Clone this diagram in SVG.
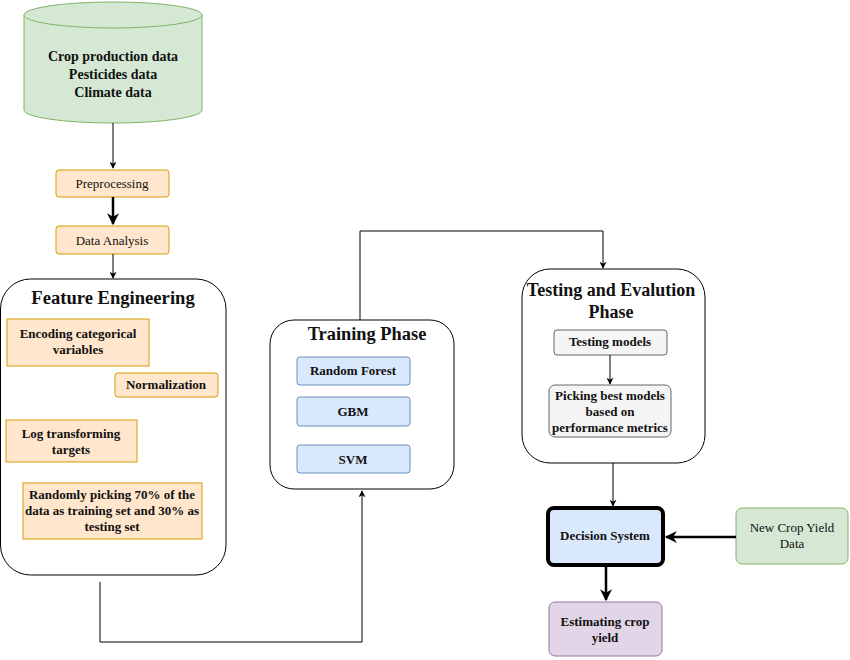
<svg xmlns="http://www.w3.org/2000/svg" width="850" height="660" viewBox="0 0 850 660">
<defs>
<marker id="a" viewBox="0 0 10 10" refX="9" refY="5" markerWidth="7" markerHeight="7" orient="auto" markerUnits="userSpaceOnUse"><path d="M0,0 L10,5 L0,10 L3,5 z" fill="#000"/></marker>
<marker id="b" viewBox="0 0 10 10" refX="9" refY="5" markerWidth="12" markerHeight="12" orient="auto" markerUnits="userSpaceOnUse"><path d="M0,0 L10,5 L0,10 L3,5 z" fill="#000"/></marker>
</defs>
<style>
text{font-family:"Liberation Serif","Times New Roman",serif;fill:#111;text-anchor:middle}
.b{font-weight:bold;font-size:13px}
.d{font-weight:bold;font-size:14px}
.n{font-size:13px}
.t{font-weight:bold;font-size:18px}
.or{fill:#ffe6cc;stroke:#d79b00;stroke-width:1}
.bl{fill:#dae8fc;stroke:#6c8ebf;stroke-width:1}
.gr{fill:#f5f5f5;stroke:#666;stroke-width:1}
.ct{fill:#fff;stroke:#000;stroke-width:1}
.ln{fill:none;stroke:#000;stroke-width:1}
.th{fill:none;stroke:#000;stroke-width:2.5}
</style>
<rect width="850" height="660" fill="#fff"/>
<g id="data">
<path d="M24,15 V110 A89,13 0 0 0 202,110 V15" fill="#d5e8d4" stroke="#82b366"/>
<ellipse cx="113" cy="15" rx="89" ry="13" fill="#d5e8d4" stroke="#82b366"/>
<text class="d" x="113" y="61">Crop production data</text>
<text class="d" x="113" y="79">Pesticides data</text>
<text class="d" x="113" y="97">Climate data</text>
</g>
<g id="preprocessing">
<rect class="or" x="56" y="170" width="113" height="27" rx="3"/>
<text class="n" x="112" y="188">Preprocessing</text>
</g>
<g id="analysis">
<rect class="or" x="56" y="226" width="113" height="28" rx="3"/>
<text class="n" x="112" y="245">Data Analysis</text>
</g>
<g id="feature">
<rect class="ct" x="0.5" y="279" width="225.5" height="296" rx="30"/>
<text class="t" x="113" y="304" style="font-size:18.6px">Feature Engineering</text>
<rect class="or" x="7" y="319" width="142" height="47"/>
<text class="b" x="78" y="338">Encoding categorical</text>
<text class="b" x="78" y="354">variables</text>
<rect class="or" x="115" y="373" width="103" height="24" rx="3"/>
<text class="b" x="166" y="389">Normalization</text>
<rect class="or" x="6" y="420" width="131" height="42"/>
<text class="b" x="71" y="438">Log transforming</text>
<text class="b" x="71" y="454">targets</text>
<rect class="or" x="23" y="483" width="179" height="56"/>
<text class="b" x="112" y="499">Randomly picking 70% of the</text>
<text class="b" x="112" y="515">data as training set and 30% as</text>
<text class="b" x="112" y="531">testing set</text>
</g>
<g id="training">
<rect class="ct" x="270" y="320" width="184" height="169" rx="24"/>
<text class="t" x="367" y="340" style="font-size:18.4px">Training Phase</text>
<rect class="bl" x="297" y="357" width="113" height="28" rx="3"/>
<text class="b" x="353" y="375">Random Forest</text>
<rect class="bl" x="297" y="397" width="113" height="29" rx="3"/>
<text class="b" x="353" y="416">GBM</text>
<rect class="bl" x="297" y="445" width="113" height="28" rx="3"/>
<text class="b" x="353" y="464">SVM</text>
</g>
<g id="testing">
<rect class="ct" x="522" y="269" width="183" height="194" rx="28"/>
<text class="t" x="611" y="296">Testing and Evalution</text>
<text class="t" x="611" y="318">Phase</text>
<rect class="gr" x="554" y="330" width="113" height="25" rx="3"/>
<text class="b" x="610" y="346">Testing models</text>
<rect class="gr" x="549" y="385" width="122" height="52" rx="6"/>
<text class="b" x="610" y="400">Picking best models</text>
<text class="b" x="610" y="416">based on</text>
<text class="b" x="610" y="432">performance metrics</text>
</g>
<g id="decision">
<rect x="548" y="508" width="115" height="57" rx="6" fill="#dae8fc" stroke="#000" stroke-width="4"/>
<text class="b" x="605" y="540">Decision System</text>
</g>
<g id="newdata">
<rect x="736" y="508" width="112" height="56" rx="6" fill="#d5e8d4" stroke="#82b366"/>
<text class="n" x="792" y="532">New Crop Yield</text>
<text class="n" x="792" y="548">Data</text>
</g>
<g id="estimate">
<rect x="549" y="602" width="113" height="54" rx="6" fill="#e1d5e7" stroke="#9673a6"/>
<text class="b" x="605" y="626">Estimating crop</text>
<text class="b" x="605" y="642">yield</text>
</g>
<g id="connectors">
<path class="ln" d="M113,123 V168" marker-end="url(#a)"/>
<path class="th" d="M113,197 V224" marker-end="url(#b)"/>
<path class="ln" d="M113,254 V278" marker-end="url(#a)"/>
<path class="ln" d="M100,582 V642 H362 V491" marker-end="url(#a)"/>
<path class="ln" d="M360,320 V231 H603 V268" marker-end="url(#a)"/>
<path class="ln" d="M610,355 V384" marker-end="url(#a)"/>
<path class="ln" d="M613,463 V506" marker-end="url(#a)"/>
<path class="th" d="M736,537 H666" marker-end="url(#b)"/>
<path class="th" d="M606,566 V600" marker-end="url(#b)"/>
</g>
</svg>
